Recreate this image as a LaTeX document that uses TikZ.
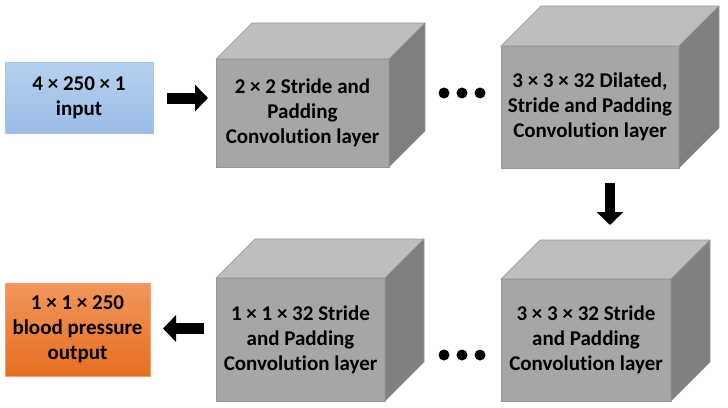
\documentclass[tikz,border=0pt]{standalone}
\usepackage{fontspec}
\setmainfont[Ligatures=NoCommon]{Carlito}
\usetikzlibrary{arrows.meta}
\definecolor{cfront}{RGB}{166,166,166}
\definecolor{ctop}{RGB}{190,190,190}
\definecolor{cside}{RGB}{128,128,128}
\definecolor{cedge}{RGB}{150,150,150}
\definecolor{inTop}{RGB}{182,208,239}
\definecolor{inBot}{RGB}{155,189,230}
\definecolor{outTop}{RGB}{242,150,92}
\definecolor{outBot}{RGB}{230,110,32}
\tikzset{
  txt/.style={font=\fontsize{21}{25}\selectfont\bfseries, align=center, text=black},
  front/.style={txt, fill=cfront, draw=cedge, line width=0.6pt, outer sep=0pt, inner sep=0pt},
  topface/.style={fill=ctop, draw=cedge, line width=0.6pt, line join=round},
  sideface/.style={fill=cside, draw=cedge, line width=0.6pt, line join=round},
  inbox/.style={txt, top color=inTop, bottom color=inBot, draw=inBot!90!white, line width=0.4pt, outer sep=0pt},
  outbox/.style={txt, top color=outTop, bottom color=outBot, draw=outTop!90!white, line width=0.4pt, outer sep=0pt},
  blockarrow/.style={line width=#1, -{Triangle[width=26pt,length=13pt]}},
  dot/.style={circle, fill=black, inner sep=0pt, minimum size=11pt},
}
% \mycube{name}{cx}{cy}{w}{h}{depth}{text}
\newcommand\mycube[7]{%
  \node[front, minimum width=#4pt, minimum height=#5pt] (#1) at (#2,#3) {#7};
  \draw[topface] (#1.north west) -- ++(#6,-#6) -- ++(#4,0) -- (#1.north east) -- cycle;
  \draw[sideface] (#1.north east) -- ++(#6,-#6) -- ++(0,#5) -- (#1.south east) -- cycle;
}
\begin{document}
\begin{tikzpicture}[x=1pt,y=-1pt]
\useasboundingbox (0,0) rectangle (728,407);
% input / output
\node[inbox, minimum width=148pt, minimum height=71pt] (in) at (79,97.5) {4 × 250 × 1\\input};
\node[outbox, minimum width=145pt, minimum height=93pt] (out) at (77.5,329.5) {1 × 1 × 250\\blood pressure\\output};
% cubes
\mycube{c1}{302.5}{113}{173}{108}{36}{2 × 2 Stride and\\Padding\\Convolution layer}
\mycube{c2}{590}{107}{178}{122}{40}{3 × 3 × 32 Dilated,\\Stride and Padding\\Convolution layer}
\mycube{c3}{300.5}{339.5}{169}{123}{39}{1 × 1 × 32 Stride\\and Padding\\Convolution layer}
\mycube{c4}{586}{340}{170}{122}{39}{3 × 3 × 32 Stride\\and Padding\\Convolution layer}
% dots
\node[dot] (d1) at (444,93) {};
\node[dot] (d2) at (462,93) {};
\node[dot] (d3) at (480,93) {};
\node[dot] (d4) at (444,355) {};
\node[dot] (d5) at (462,355) {};
\node[dot] (d6) at (480,355) {};
% block arrows
\coordinate (a1s) at (167,98);
\coordinate (a1e) at (208,98);
\draw[blockarrow=11pt] (a1s) -- (a1e);
\coordinate (a2s) at (610,183);
\coordinate (a2e) at (610,225);
\draw[blockarrow=10pt] (a2s) -- (a2e);
\coordinate (a3s) at (204,328.5);
\coordinate (a3e) at (163,328.5);
\draw[blockarrow=11pt] (a3s) -- (a3e);
\end{tikzpicture}
\end{document}
